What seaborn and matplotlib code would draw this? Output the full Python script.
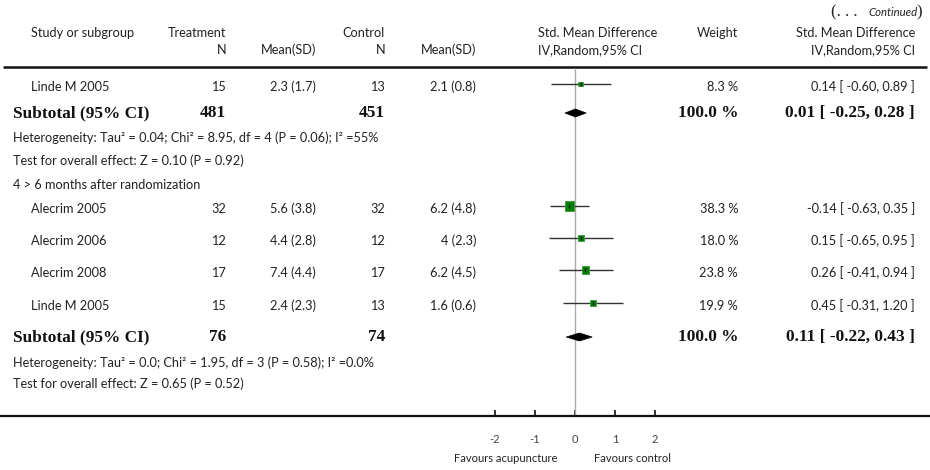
import numpy as np
import pandas as pd
import matplotlib
matplotlib.use("Agg")
import matplotlib.pyplot as plt
import seaborn as sns
from matplotlib.patches import Polygon

sns.set_theme(style="white")
plt.rcParams['font.family'] = ['Lato', 'DejaVu Sans']

# ---------------- data ----------------
studies = ["Linde M 2005", "Alecrim 2005", "Alecrim 2006", "Alecrim 2008", "Linde M 2005"]
n_treat = [15, 32, 12, 17, 15]
mean_treat = [2.3, 5.6, 4.4, 7.4, 2.4]
sd_treat = [1.7, 3.8, 2.8, 4.4, 2.3]
n_ctrl = [13, 32, 12, 17, 13]
mean_ctrl = [2.1, 6.2, 4, 6.2, 1.6]
sd_ctrl = [0.8, 4.8, 2.3, 4.5, 0.6]
smd = [0.14, -0.14, 0.15, 0.26, 0.45]
ci_low = [-0.60, -0.63, -0.65, -0.41, -0.31]
ci_high = [0.89, 0.35, 0.95, 0.94, 1.20]
weight = [8.3, 38.3, 18.0, 23.8, 19.9]

sub_n_treat = [481, 76]
sub_n_ctrl = [451, 74]
sub_smd = [0.01, 0.11]
sub_low = [-0.25, -0.22]
sub_high = [0.28, 0.43]
sub_weight = [100.0, 100.0]
heterogeneity = ["Heterogeneity: Tau\u00b2 = 0.04; Chi\u00b2 = 8.95, df = 4 (P = 0.06); I\u00b2 =55%",
                 "Heterogeneity: Tau\u00b2 = 0.0; Chi\u00b2 = 1.95, df = 3 (P = 0.58); I\u00b2 =0.0%"]
overall = ["Test for overall effect: Z = 0.10 (P = 0.92)",
           "Test for overall effect: Z = 0.65 (P = 0.52)"]
subgroup_title = "4 > 6 months after randomization"
x_ticks = [-2, -1, 0, 1, 2]
favours = ["Favours acupuncture", "Favours control"]

# ---------------- layout (pixels) ----------------
W, H = 930, 470
study_y = [84, 206, 238, 270, 303]
sub_y = [113, 337]
het_y = [138, 363]
ovr_y = [161, 384]
title_y = 185
zero_px, px_per_unit = 575, 40
axis_y = 416
header_y = 67

TXT = '#222222'
FS = 9.2
BFS = 12.4
SERIF = 'Liberation Serif'

fig = plt.figure(figsize=(W / 100, H / 100), dpi=100)
ax = fig.add_axes([0, 0, 1, 1])
ax.set_xlim(0, W)
ax.set_ylim(H, 0)
ax.axis('off')
ax.patch.set_alpha(0)

fa = fig.add_axes([0, 0, 1, 1], sharey=ax)
fa.set_xlim((0 - zero_px) / px_per_unit, (W - zero_px) / px_per_unit)
fa.patch.set_alpha(0)
for s in ['top', 'left', 'right']:
    fa.spines[s].set_visible(False)
fa.spines['bottom'].set_position(('data', axis_y))
fa.spines['bottom'].set_color('#111111')
fa.spines['bottom'].set_linewidth(1.6)
fa.set_yticks([])
fa.set_xticks(x_ticks)
fa.set_xticklabels([str(t) for t in x_ticks])
fa.tick_params(axis='x', direction='in', length=4, width=1.2, color='#111111',
               labelsize=8, labelcolor='#444444', pad=13, bottom=True)

def t(x, y, s, ha='left', **kw):
    kw.setdefault('fontsize', FS)
    kw.setdefault('color', TXT)
    ax.text(x, y, s, ha=ha, va='center', **kw)

# continued
t(922, 12, ")", ha='right', fontsize=12, family=SERIF)
t(918, 12, "Continued", ha='right', fontsize=8.2, style='italic')
t(858, 12, "(. . .", ha='right', fontsize=12, family=SERIF)

# headers
t(31, 33, "Study or subgroup")
t(226, 33, "Treatment", ha='right')
t(385, 33, "Control", ha='right')
t(538, 33, "Std. Mean Difference")
t(738, 33, "Weight", ha='right')
t(915, 33, "Std. Mean Difference", ha='right')
t(226, 50, "N", ha='right')
t(316, 50, "Mean(SD)", ha='right')
t(385, 50, "N", ha='right')
t(476, 50, "Mean(SD)", ha='right')
t(538, 50, "IV,Random,95% CI")
t(915, 50, "IV,Random,95% CI", ha='right')

ax.plot([3, 927], [header_y, header_y], color='#111111', lw=1.8, solid_capstyle='butt')

# zero line
fa.vlines(0, header_y + 1, axis_y, color='#aaaaaa', lw=1.0, zorder=1)

# study rows
for i, name in enumerate(studies):
    y = study_y[i] + 3
    t(31, y, name)
    t(226, y, f"{n_treat[i]}", ha='right')
    t(316, y, f"{mean_treat[i]:g} ({sd_treat[i]:g})", ha='right')
    t(385, y, f"{n_ctrl[i]}", ha='right')
    t(476, y, f"{mean_ctrl[i]:g} ({sd_ctrl[i]:g})", ha='right')
    t(738, y, f"{weight[i]:.1f} %", ha='right')
    t(915, y, f"{smd[i]:.2f} [ {ci_low[i]:.2f}, {ci_high[i]:.2f} ]", ha='right')

df = pd.DataFrame({"smd": smd, "lo": ci_low, "hi": ci_high, "w": weight, "y": study_y})
fa.hlines(df["y"], df["lo"], df["hi"], color='#333333', lw=1.0, zorder=2)
sns.scatterplot(data=df, x="smd", y="y", size="w", sizes=(0, 115), size_norm=(0, 100),
                marker='s', color='#008000', edgecolor='#3a9a3a', linewidth=0.6,
                legend=False, ax=fa, zorder=3)
fa.scatter(df["smd"], df["y"], marker='|', s=12, color='#111111', linewidths=0.8, zorder=4)

# subtotals
for k in range(2):
    y = sub_y[k]
    bold = dict(fontsize=BFS, family=SERIF, weight='bold', color='#111111')
    t(13, y, "Subtotal (95% CI)", **bold)
    t(226, y, f"{sub_n_treat[k]}", ha='right', **bold)
    t(385, y, f"{sub_n_ctrl[k]}", ha='right', **bold)
    t(738, y, f"{sub_weight[k]:.1f} %", ha='right', **bold)
    t(915, y, f"{sub_smd[k]:.2f} [ {sub_low[k]:.2f}, {sub_high[k]:.2f} ]", ha='right', **bold)
    dia = Polygon([(sub_low[k], y), (sub_smd[k], y - 4), (sub_high[k], y), (sub_smd[k], y + 4)],
                  closed=True, facecolor='black', edgecolor='black', lw=0.5, zorder=3)
    fa.add_patch(dia)
    t(13, het_y[k], heterogeneity[k])
    t(13, ovr_y[k], overall[k])

t(13, title_y, subgroup_title)

t(506, 459, favours[0], ha='center', fontsize=8)
t(632, 459, favours[1], ha='center', fontsize=8)

fa.set_ylim(H, 0)
fa.set_xlabel("")
fa.set_ylabel("")

fig.savefig("out.png", dpi=100)
